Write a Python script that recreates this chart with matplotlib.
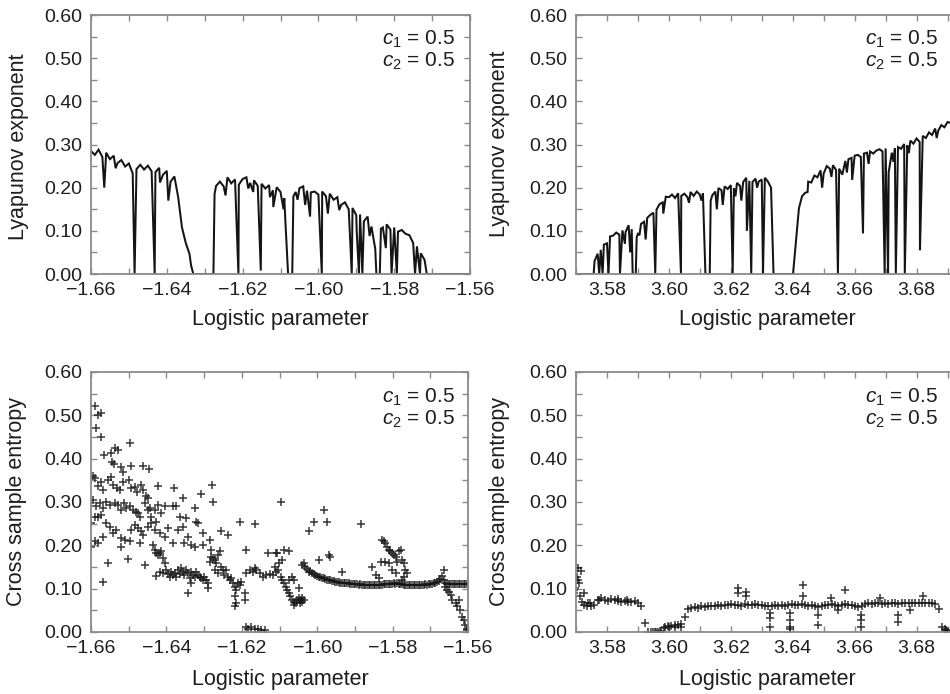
import numpy as np
import matplotlib
matplotlib.use("Agg")
import matplotlib.pyplot as plt
from matplotlib.ticker import MultipleLocator, FuncFormatter

plt.rcParams['font.family'] = ['Liberation Sans', 'DejaVu Sans']
plt.rcParams['mathtext.fontset'] = 'custom'
plt.rcParams['mathtext.rm'] = 'Liberation Sans'
plt.rcParams['mathtext.it'] = 'Liberation Sans:italic'

# ---------------- Lyapunov exponent, negative logistic parameter ----------------
lyap_neg_start, lyap_neg_step = -1.660, 0.001
lyap_neg_y = [
    0.285, 0.276, 0.288, 0.271, 0.281, 0.266, 0.274, 0.257, 0.264, 0.249,
    0.256, 0.233, 0.243, 0.253, 0.242, 0.251, 0.238, 0.236, 0.246, 0.230,
    0.239, 0.214, 0.226, 0.178, 0.108, 0.072, 0.046, 0.000, 0.000, 0.000,
    0.000, 0.000, 0.000, 0.204, 0.214, 0.203, 0.224, 0.210, 0.219, 0.207,
    0.220, 0.224, 0.211, 0.217, 0.204, 0.209, 0.198, 0.206, 0.194, 0.201,
    0.190, 0.176, 0.000, 0.000, 0.190, 0.199, 0.203, 0.193, 0.189, 0.191,
    0.184, 0.191, 0.180, 0.186, 0.172, 0.178, 0.160, 0.166, 0.150, 0.153,
    0.136, 0.138, 0.122, 0.133, 0.110, 0.058, 0.000, 0.108, 0.115, 0.103,
    0.108, 0.098, 0.102, 0.093, 0.090, 0.072, 0.064, 0.048, 0.033, 0.000,
    0.000, 0.000, 0.000, 0.000, 0.000, 0.000, 0.000, 0.000, 0.000, 0.000,
    0.000,
]
# periodic windows (narrow drops) and window edges
lyap_neg_win_x = [-1.6565, -1.6535, -1.6485, -1.6432, -1.6418, -1.6396, -1.6336,
                  -1.6277, -1.6274, -1.6245, -1.6211, -1.6185, -1.6172, -1.6152,
                  -1.6128, -1.6119, -1.6092, -1.6087, -1.6069, -1.6066, -1.6055,
                  -1.6035, -1.6022, -1.5991, -1.5975, -1.5945, -1.5912, -1.5899,
                  -1.5893, -1.5884, -1.5865, -1.5847, -1.5838, -1.5835, -1.5822,
                  -1.5807, -1.5793, -1.5745, -1.5732, -1.5714]
lyap_neg_win_y = [0.200, 0.245, 0.000, 0.000, 0.212, 0.170, 0.020,
                  0.000, 0.185, 0.182, 0.000, 0.198, 0.190, 0.008,
                  0.178, 0.155, 0.150, 0.120, 0.000, 0.180, 0.172,
                  0.160, 0.133, 0.000, 0.140, 0.148, 0.000, 0.100,
                  0.000, 0.000, 0.088, 0.000, 0.000, 0.105, 0.060,
                  0.000, 0.000, 0.000, 0.000, 0.000]

# ---------------- Lyapunov exponent, positive logistic parameter ----------------
lyap_pos_start, lyap_pos_step = 3.569, 0.001
lyap_pos_y = [
    0.000, 0.000, 0.000, 0.000, 0.000, 0.000, 0.000, 0.030, 0.047, 0.056,
    0.068, 0.071, 0.087, 0.089, 0.096, 0.091, 0.101, 0.097, 0.113, 0.104,
    0.000, 0.093, 0.116, 0.121, 0.130, 0.137, 0.142, 0.149, 0.162, 0.166,
    0.179, 0.178, 0.184, 0.176, 0.187, 0.181, 0.186, 0.178, 0.190, 0.181,
    0.191, 0.184, 0.187, 0.000, 0.000, 0.182, 0.191, 0.199, 0.194, 0.203,
    0.197, 0.206, 0.199, 0.211, 0.204, 0.213, 0.223, 0.216, 0.213, 0.221,
    0.214, 0.219, 0.223, 0.214, 0.200, 0.000, 0.000, 0.000, 0.000, 0.000,
    0.000, 0.000, 0.072, 0.152, 0.180, 0.188, 0.214, 0.212, 0.228, 0.224,
    0.240, 0.233, 0.250, 0.244, 0.252, 0.241, 0.244, 0.230, 0.262, 0.266,
    0.269, 0.274, 0.276, 0.271, 0.279, 0.281, 0.284, 0.279, 0.286, 0.289,
    0.284, 0.291, 0.236, 0.281, 0.291, 0.294, 0.290, 0.301, 0.298, 0.309,
    0.302, 0.314, 0.306, 0.320, 0.315, 0.328, 0.322, 0.337, 0.332, 0.345,
    0.340, 0.352, 0.350,
]
lyap_pos_win_x = [3.5757, 3.5775, 3.5786, 3.5805, 3.5842, 3.5858, 3.5875, 3.5883,
                  3.5893, 3.5896, 3.5905, 3.5925, 3.5956, 3.5982, 3.6039, 3.6065,
                  3.6105, 3.6118, 3.6132, 3.6135, 3.6155, 3.6174, 3.6206, 3.6215,
                  3.6234, 3.6252, 3.6266, 3.6285, 3.6304, 3.6338, 3.6401, 3.6448,
                  3.6495, 3.6525, 3.6546, 3.6575, 3.6592, 3.6627, 3.6645, 3.6697,
                  3.6708, 3.6725, 3.6733, 3.6762, 3.6775, 3.6811, 3.6865]
lyap_pos_win_y = [0.000, 0.000, 0.000, 0.000, 0.000, 0.070, 0.050, 0.000,
                  0.000, 0.085, 0.090, 0.080, 0.000, 0.140, 0.000, 0.165,
                  0.170, 0.000, 0.000, 0.170, 0.150, 0.160, 0.000, 0.180,
                  0.170, 0.100, 0.000, 0.200, 0.000, 0.000, 0.000, 0.190,
                  0.200, 0.225, 0.000, 0.235, 0.218, 0.094, 0.255, 0.000,
                  0.000, 0.260, 0.000, 0.000, 0.280, 0.055, 0.315]

# ---------------- Cross sample entropy, negative logistic parameter ----------------
cse_neg_cloud = [
    (-1.6590, 0.522), (-1.6581, 0.500), (-1.6573, 0.505), (-1.6586, 0.470), (-1.6574, 0.451),
    (-1.6566, 0.409), (-1.6548, 0.413), (-1.6537, 0.424), (-1.6528, 0.419), (-1.6497, 0.437),
    (-1.6544, 0.393), (-1.6539, 0.388), (-1.6521, 0.380), (-1.6516, 0.370), (-1.6493, 0.384),
    (-1.6462, 0.384), (-1.6446, 0.377),
    (-1.6595, 0.359), (-1.6589, 0.355), (-1.6573, 0.346), (-1.6581, 0.336), (-1.6568, 0.328),
    (-1.6555, 0.351), (-1.6548, 0.357), (-1.6542, 0.340), (-1.6530, 0.332), (-1.6524, 0.328),
    (-1.6515, 0.347), (-1.6499, 0.351), (-1.6493, 0.332), (-1.6484, 0.334), (-1.6477, 0.324),
    (-1.6467, 0.340), (-1.6462, 0.328), (-1.6453, 0.313), (-1.6449, 0.310), (-1.6421, 0.338),
    (-1.6380, 0.332), (-1.6356, 0.310), (-1.6307, 0.319), (-1.6279, 0.340), (-1.6276, 0.301),
    (-1.6595, 0.305), (-1.6586, 0.290), (-1.6577, 0.297), (-1.6568, 0.286), (-1.6559, 0.301),
    (-1.6550, 0.293), (-1.6537, 0.297), (-1.6528, 0.293), (-1.6520, 0.282), (-1.6513, 0.297),
    (-1.6506, 0.286), (-1.6497, 0.290), (-1.6489, 0.282), (-1.6480, 0.278), (-1.6475, 0.274),
    (-1.6471, 0.266), (-1.6458, 0.297), (-1.6449, 0.282), (-1.6444, 0.286), (-1.6440, 0.266),
    (-1.6431, 0.282), (-1.6422, 0.293), (-1.6413, 0.274), (-1.6405, 0.290), (-1.6383, 0.291),
    (-1.6374, 0.290), (-1.6365, 0.266), (-1.6347, 0.263), (-1.6325, 0.286), (-1.6321, 0.255),
    (-1.6316, 0.251), (-1.6206, 0.255), (-1.6166, 0.249),
    (-1.6599, 0.251), (-1.6590, 0.266), (-1.6581, 0.266), (-1.6573, 0.270), (-1.6559, 0.251),
    (-1.6550, 0.243), (-1.6542, 0.228), (-1.6533, 0.236), (-1.6520, 0.216), (-1.6511, 0.213),
    (-1.6497, 0.211), (-1.6493, 0.236), (-1.6484, 0.247), (-1.6475, 0.239), (-1.6467, 0.232),
    (-1.6462, 0.224), (-1.6449, 0.243), (-1.6440, 0.251), (-1.6431, 0.236), (-1.6427, 0.255),
    (-1.6418, 0.228), (-1.6405, 0.220), (-1.6396, 0.239), (-1.6383, 0.205), (-1.6369, 0.236),
    (-1.6356, 0.243), (-1.6343, 0.220), (-1.6352, 0.205), (-1.6334, 0.201), (-1.6325, 0.197),
    (-1.6303, 0.228), (-1.6303, 0.201), (-1.6285, 0.213), (-1.6281, 0.189), (-1.6254, 0.232),
    (-1.6237, 0.224), (-1.6188, 0.189), (-1.6131, 0.182),
    (-1.6590, 0.209), (-1.6581, 0.205), (-1.6568, 0.220), (-1.6555, 0.160), (-1.6520, 0.197),
    (-1.6502, 0.168), (-1.6471, 0.205), (-1.6458, 0.155), (-1.6436, 0.201), (-1.6431, 0.189),
    (-1.6427, 0.182), (-1.6422, 0.178), (-1.6418, 0.182), (-1.6413, 0.186), (-1.6409, 0.170),
    (-1.6405, 0.160), (-1.6427, 0.129), (-1.6568, 0.115), (-1.6599, 0.197),
]
cse_neg_band = [
    (-1.6418, 0.139), (-1.6409, 0.136), (-1.6400, 0.143), (-1.6396, 0.134), (-1.6391, 0.128),
    (-1.6387, 0.139), (-1.6383, 0.132), (-1.6378, 0.136), (-1.6374, 0.128), (-1.6369, 0.143),
    (-1.6365, 0.134), (-1.6360, 0.147), (-1.6356, 0.139), (-1.6352, 0.132), (-1.6347, 0.143),
    (-1.6343, 0.136), (-1.6338, 0.124), (-1.6334, 0.139), (-1.6330, 0.132), (-1.6325, 0.128),
    (-1.6321, 0.139), (-1.6316, 0.132), (-1.6312, 0.128), (-1.6307, 0.124), (-1.6303, 0.120),
    (-1.6299, 0.128), (-1.6294, 0.120), (-1.6334, 0.112), (-1.6343, 0.091), (-1.6290, 0.101),
    (-1.6290, 0.112),
    (-1.6285, 0.162), (-1.6281, 0.174), (-1.6276, 0.170), (-1.6272, 0.166), (-1.6268, 0.159),
    (-1.6263, 0.178), (-1.6259, 0.186), (-1.6254, 0.151), (-1.6250, 0.143), (-1.6272, 0.143),
    (-1.6263, 0.136),
    (-1.6246, 0.132), (-1.6241, 0.143), (-1.6237, 0.128), (-1.6232, 0.120), (-1.6228, 0.124),
    (-1.6223, 0.112), (-1.6219, 0.105), (-1.6215, 0.097), (-1.6210, 0.112), (-1.6206, 0.109),
    (-1.6219, 0.082), (-1.6215, 0.066), (-1.6219, 0.059), (-1.6192, 0.089), (-1.6192, 0.074),
    (-1.6201, 0.116), (-1.6188, 0.136), (-1.6179, 0.143), (-1.6170, 0.139), (-1.6166, 0.147),
    (-1.6162, 0.143), (-1.6153, 0.136), (-1.6144, 0.128), (-1.6135, 0.132), (-1.6126, 0.134),
    (-1.6117, 0.132), (-1.6109, 0.139), (-1.6104, 0.143), (-1.6109, 0.182),
    (-1.6188, 0.012), (-1.6184, 0.008), (-1.6175, 0.011), (-1.6166, 0.006), (-1.6157, 0.008),
    (-1.6148, 0.005), (-1.6139, 0.005),
    (-1.6097, 0.301), (-1.6106, 0.182), (-1.6102, 0.160), (-1.6093, 0.166), (-1.6088, 0.189),
    (-1.6075, 0.186), (-1.6111, 0.151), (-1.6097, 0.128), (-1.6093, 0.120), (-1.6088, 0.112),
    (-1.6084, 0.105), (-1.6080, 0.097), (-1.6075, 0.089), (-1.6071, 0.082), (-1.6066, 0.074),
    (-1.6062, 0.070), (-1.6057, 0.066), (-1.6053, 0.074), (-1.6049, 0.078), (-1.6044, 0.074),
    (-1.6040, 0.070), (-1.6035, 0.074), (-1.6062, 0.120), (-1.6049, 0.101), (-1.6075, 0.120),
    (-1.6066, 0.128), (-1.6062, 0.062), (-1.6046, 0.066), (-1.6040, 0.078),
]
cse_neg_tail = [
    (-1.5828, 0.213), (-1.5823, 0.209), (-1.5819, 0.205), (-1.5814, 0.197), (-1.5810, 0.189),
    (-1.5806, 0.186), (-1.5801, 0.182), (-1.5797, 0.178), (-1.5792, 0.174), (-1.5788, 0.162),
    (-1.5783, 0.186), (-1.5779, 0.189), (-1.5775, 0.166), (-1.5770, 0.159), (-1.5766, 0.143),
    (-1.5761, 0.136), (-1.5770, 0.128), (-1.5775, 0.120), (-1.5819, 0.162), (-1.5810, 0.159),
    (-1.5801, 0.143), (-1.5792, 0.136), (-1.5832, 0.162), (-1.5854, 0.151), (-1.5845, 0.132),
    (-1.5836, 0.124),
    (-1.6022, 0.232), (-1.6009, 0.255), (-1.5982, 0.282), (-1.5973, 0.255), (-1.5885, 0.249),
    (-1.5996, 0.166), (-1.5969, 0.178), (-1.5965, 0.174), (-1.5934, 0.139),
    (-1.5664, 0.143), (-1.5660, 0.105), (-1.5655, 0.097), (-1.5651, 0.093), (-1.5646, 0.085),
    (-1.5642, 0.074), (-1.5633, 0.066), (-1.5629, 0.059), (-1.5624, 0.074), (-1.5620, 0.051),
    (-1.5615, 0.035), (-1.5611, 0.028), (-1.5607, 0.016), (-1.5602, 0.008), (-1.5602, 0.005),
]
# slowly decaying branch after x = -1.604
cse_neg_ridge_start, cse_neg_ridge_step = -1.6040, 0.000442
cse_neg_ridge_y = [
    0.155, 0.160, 0.151, 0.145, 0.139, 0.140, 0.136, 0.134, 0.132, 0.130,
    0.128, 0.127, 0.124, 0.124, 0.122, 0.121, 0.120, 0.119, 0.118, 0.117,
    0.116, 0.116, 0.115, 0.114, 0.114, 0.113, 0.112, 0.112, 0.112, 0.111,
    0.111, 0.110, 0.110, 0.110, 0.109, 0.110, 0.109, 0.108, 0.109, 0.108,
    0.108, 0.109, 0.108, 0.108, 0.108, 0.109, 0.108, 0.109, 0.109, 0.110,
    0.110, 0.111, 0.110, 0.111, 0.111, 0.112, 0.111, 0.112, 0.111, 0.110,
    0.111, 0.109, 0.108, 0.108, 0.109, 0.108, 0.109, 0.108, 0.108, 0.109,
    0.109, 0.108, 0.109, 0.109, 0.110, 0.109, 0.110, 0.110, 0.111, 0.112,
    0.113, 0.115, 0.118, 0.123, 0.130, 0.120, 0.112, 0.111, 0.110, 0.111,
    0.110, 0.111, 0.111, 0.110, 0.111, 0.111, 0.110, 0.111, 0.111, 0.110,
    0.111,
]

# ---------------- Cross sample entropy, positive logistic parameter ----------------
cse_pos_ridge_start, cse_pos_ridge_step = 3.5695, 0.001079
cse_pos_ridge_y = [
    0.097, 0.120, 0.140, 0.089, 0.066, 0.059, 0.062, 0.074, 0.078, 0.074,
    0.071, 0.076, 0.073, 0.072, 0.070, 0.071, 0.069, 0.070, 0.072, 0.068,
    0.059, 0.020, 0.000, 0.000, 0.000, 0.000, 0.001, 0.012, 0.014, 0.015,
    0.016, 0.016, 0.018, 0.035, 0.052, 0.055, 0.057, 0.056, 0.059, 0.058,
    0.060, 0.061, 0.059, 0.062, 0.061, 0.063, 0.062, 0.064, 0.062, 0.063,
    0.061, 0.064, 0.063, 0.062, 0.065, 0.063, 0.062, 0.060, 0.061, 0.059,
    0.062, 0.061, 0.063, 0.060, 0.062, 0.064, 0.063, 0.062, 0.064, 0.063,
    0.061, 0.062, 0.060, 0.058, 0.061, 0.063, 0.062, 0.064, 0.063, 0.061,
    0.063, 0.064, 0.062, 0.063, 0.060, 0.058, 0.060, 0.064, 0.066, 0.065,
    0.067, 0.066, 0.065, 0.066, 0.064, 0.066, 0.067, 0.065, 0.066, 0.068,
    0.067, 0.066, 0.068, 0.067, 0.068, 0.067, 0.066, 0.066, 0.064, 0.052,
    0.012, 0.006,
]
cse_pos_scatter = [
    (3.5692, 0.089), (3.5697, 0.101), (3.5703, 0.128), (3.5706, 0.147), (3.5709, 0.112),
    (3.5714, 0.082), (3.5720, 0.070), (3.5727, 0.062), (3.5735, 0.060), (3.5745, 0.068),
    (3.5775, 0.075), (3.5835, 0.076), (3.5865, 0.074), (3.5950, 0.001), (3.5960, 0.001),
    (3.5970, 0.002), (3.5985, 0.010), (3.6000, 0.012), (3.6020, 0.012), (3.6040, 0.012),
    (3.6223, 0.101), (3.6223, 0.089), (3.6250, 0.093), (3.6250, 0.082), (3.6326, 0.043),
    (3.6326, 0.032), (3.6326, 0.012), (3.6390, 0.043), (3.6390, 0.028), (3.6390, 0.012),
    (3.6390, 0.006), (3.6433, 0.109), (3.6433, 0.082), (3.6482, 0.039), (3.6482, 0.016),
    (3.6525, 0.078), (3.6547, 0.051), (3.6568, 0.097), (3.6622, 0.039), (3.6622, 0.028),
    (3.6622, 0.012), (3.6682, 0.078), (3.6741, 0.039), (3.6741, 0.024), (3.6779, 0.051),
    (3.6822, 0.082), (3.6896, 0.004), (3.6899, 0.002),
]

x_label = "Logistic parameter"
y_label_top = "Lyapunov exponent"
y_label_bottom = "Cross sample entropy"
coupling_lines = [r"$c_1$ = 0.5", r"$c_2$ = 0.5"]

W, H = 950, 694
fig = plt.figure(figsize=(W / 100, H / 100), dpi=100)


def frac(left, right, top, bottom):
    return [left / W, 1 - bottom / H, (right - left) / W, (bottom - top) / H]


def minus_fmt(v, _):
    return f"{v:.2f}".replace("-", "\u2212")


def style(ax, xlim):
    ax.set_xlim(*xlim)
    ax.set_ylim(0, 0.6)
    ax.xaxis.set_major_locator(MultipleLocator(0.02))
    ax.xaxis.set_minor_locator(MultipleLocator(0.01))
    ax.yaxis.set_major_locator(MultipleLocator(0.1))
    ax.yaxis.set_minor_locator(MultipleLocator(0.05))
    ax.xaxis.set_major_formatter(FuncFormatter(minus_fmt))
    ax.yaxis.set_major_formatter(FuncFormatter(minus_fmt))
    ax.tick_params(which='both', direction='in', top=True, right=True,
                   length=4, width=1.0, color='#8a8a8a',
                   labelsize=14, labelcolor='#1e1e1e')
    ax.tick_params(axis='x', pad=5.5)
    ax.tick_params(axis='y', pad=6.5)
    for s in ax.spines.values():
        s.set_color('#8a8a8a')
        s.set_linewidth(1.3)


def merged_line(start, step, ys, wx, wy):
    gx = start + step * np.arange(len(ys))
    x = np.concatenate([gx, np.asarray(wx)])
    y = np.concatenate([np.asarray(ys), np.asarray(wy)])
    order = np.argsort(x, kind='stable')
    return x[order], y[order]


line_kw = dict(color='#141414', lw=1.45, solid_joinstyle='miter')
mark_kw = dict(ls='none', marker='+', ms=5.5, mew=1.1, color='#161616', alpha=0.85)

# top left
ax1 = fig.add_axes(frac(91, 470, 15, 274))
style(ax1, (-1.66, -1.56))
x, y = merged_line(lyap_neg_start, lyap_neg_step, lyap_neg_y, lyap_neg_win_x, lyap_neg_win_y)
ax1.plot(x, y, **line_kw)

# top right
ax2 = fig.add_axes(frac(576, 963, 15, 274))
style(ax2, (3.57, 3.695))
x, y = merged_line(lyap_pos_start, lyap_pos_step, lyap_pos_y, lyap_pos_win_x, lyap_pos_win_y)
ax2.plot(x, y, **line_kw)

# bottom left
ax3 = fig.add_axes(frac(91, 468, 372, 632))
style(ax3, (-1.66, -1.56))
for pts in (cse_neg_cloud, cse_neg_band, cse_neg_tail):
    p = np.asarray(pts)
    ax3.plot(p[:, 0], p[:, 1], **mark_kw)
rx = cse_neg_ridge_start + cse_neg_ridge_step * np.arange(len(cse_neg_ridge_y))
ax3.plot(rx, cse_neg_ridge_y, **mark_kw)

# bottom right
ax4 = fig.add_axes(frac(576, 963, 372, 632))
style(ax4, (3.57, 3.695))
rx = cse_pos_ridge_start + cse_pos_ridge_step * np.arange(len(cse_pos_ridge_y))
ax4.plot(rx, cse_pos_ridge_y, **mark_kw)
p = np.asarray(cse_pos_scatter)
ax4.plot(p[:, 0], p[:, 1], **mark_kw)

# axis titles
for cx, cy in ((280, 320), (767, 320), (280, 680), (767, 680)):
    fig.text(cx / W, 1 - cy / H, x_label, ha='center', va='center',
             fontsize=15.5, color='#1e1e1e')
for cx, cy, lab in ((19, 147, y_label_top), (500, 144, y_label_top),
                    (17, 502, y_label_bottom), (500, 502, y_label_bottom)):
    fig.text(cx / W, 1 - cy / H, lab, ha='center', va='center', rotation=90,
             fontsize=15.5, color='#1e1e1e')

# coupling annotation
for rx_, base1 in ((455, 45), (938, 45), (455, 403), (938, 403)):
    for i, s in enumerate(coupling_lines):
        fig.text(rx_ / W, 1 - (base1 + 22 * i) / H, s, ha='right', va='baseline',
                 fontsize=15, color='#1e1e1e')

fig.savefig("out.png", dpi=100)
